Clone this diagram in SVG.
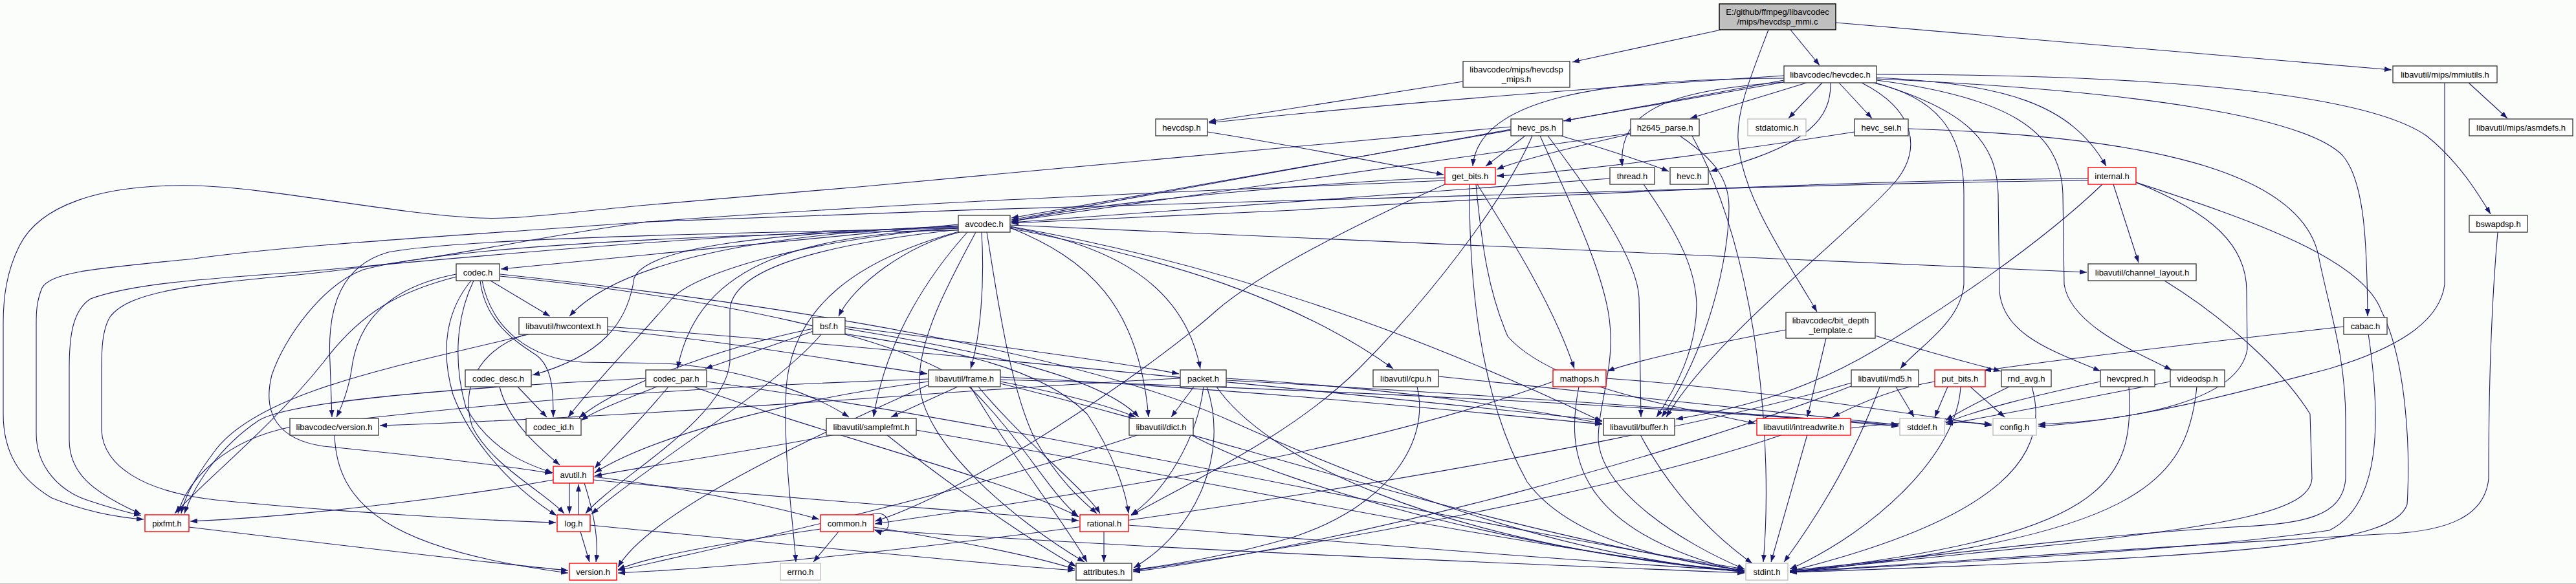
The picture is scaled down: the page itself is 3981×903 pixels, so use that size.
<svg xmlns="http://www.w3.org/2000/svg" width="3981" height="903" viewBox="0 0 3981 903">
<style>
.n rect{fill:#fff;stroke:#404040;stroke-width:1.4}
.n.r rect{stroke:#ff0000}
.n.g rect{stroke:#bfbfbf}
.n.top rect{fill:#bfbfbf;stroke:#000}
.n text{font-family:"Liberation Sans",Arial,sans-serif;font-size:13px;text-anchor:middle;fill:#000}
#edges path{fill:none;stroke:#191970;stroke-width:1.1;marker-end:url(#a)}
</style>
<defs>
<marker id="a" markerUnits="userSpaceOnUse" markerWidth="11" markerHeight="8" viewBox="0 0 11 8" refX="11" refY="4" orient="auto">
<path d="M0,0 L11,4 L0,8 z" fill="#191970"/>
</marker>
</defs>
<rect x="0" y="0" width="3981" height="903" fill="#fbfdfb"/>
<line x1="0" y1="902.5" x2="3981" y2="902.5" stroke="#c0c0c0"/>
<g id="edges">
<path d="M2660,46 L2430,96"/>
<path d="M2767,46 L2812,101"/>
<path d="M2733,46 C2705,120 2684,170 2686,215 C2690,300 2760,400 2808,482"/>
<path d="M2837,35 L3696,108"/>
<path d="M2261,126 L1868,188"/>
<path d="M2757,117 C2400,140 2100,165 1868,190"/>
<path d="M2757,124 L2417,187"/>
<path d="M2792,128 L2612,183"/>
<path d="M2816,128 L2764,183"/>
<path d="M2842,128 L2893,183"/>
<path d="M2829,128 C2830,180 2800,225 2643,265"/>
<path d="M2757,127 C2580,140 2500,170 2507,257"/>
<path d="M2757,121 C2480,122 2285,150 2276,257"/>
<path d="M2757,127 L1563,337"/>
<path d="M2900,120 C3100,130 3200,160 3255,257"/>
<path d="M2900,115 C3300,115 3650,140 3750,210 C3800,250 3830,300 3849,331"/>
<path d="M2900,122 C3300,140 3560,180 3620,240 C3655,280 3658,380 3659,489"/>
<path d="M2895,128 C2990,150 3035,200 3035,300 L3035,440 C3030,500 2960,540 2937,570"/>
<path d="M2898,128 C3040,170 3086,220 3088,300 L3090,450 C3095,520 3180,545 3246,574"/>
<path d="M2900,124 C3100,150 3185,200 3188,300 L3190,440 C3200,500 3290,540 3356,572"/>
<path d="M2877,128 C2960,170 2970,230 2930,280 C2850,370 2650,520 2575,645"/>
<path d="M3815,128 L3875,183"/>
<path d="M3778,128 L3778,440 C3770,500 3700,540 3600,570 C3450,610 3300,650 3150,659"/>
<path d="M1866,204 C2000,225 2150,255 2231,270"/>
<path d="M2357,210 L2296,257"/>
<path d="M2412,210 C2480,230 2540,250 2579,265"/>
<path d="M2335,200 L1563,340"/>
<path d="M2335,196 C2100,220 1500,275 1000,317 C880,328 800,340 740,337 C600,330 420,290 300,287 C150,284 60,320 30,380 C10,420 5,460 5,500 L5,640 C5,700 30,740 80,770 C130,790 180,800 222,803"/>
<path d="M2368,210 C2320,320 2200,470 2100,570 C2000,670 1850,740 1748,797"/>
<path d="M2392,210 C2460,300 2530,400 2533,460 L2536,645"/>
<path d="M2380,210 C2420,300 2470,400 2485,480 C2500,560 2470,620 2470,680 C2475,760 2600,840 2696,880"/>
<path d="M2520,207 C2420,230 2340,250 2313,262"/>
<path d="M2520,206 L1563,342"/>
<path d="M2596,210 C2640,240 2672,270 2672,320 C2672,400 2640,540 2568,645"/>
<path d="M2615,210 C2720,400 2740,700 2725,869"/>
<path d="M2233,275 C2100,278 1700,310 1563,343"/>
<path d="M2233,279 C2000,290 1500,306 1000,343 C800,370 700,400 460,425 C300,440 200,450 170,490 C158,510 157,540 157,570 L157,666 C160,720 220,760 333,773 C500,790 750,805 859,808"/>
<path d="M2283,285 C2330,360 2400,470 2433,570"/>
<path d="M2233,285 C2100,345 1950,420 1880,480 C1780,570 1500,760 1352,806"/>
<path d="M2271,285 C2270,450 2290,620 2360,745 C2430,840 2600,870 2696,882"/>
<path d="M2281,285 C2290,380 2300,450 2330,520 C2400,600 2600,630 2713,655"/>
<path d="M2488,276 L1563,344"/>
<path d="M2540,285 C2600,370 2620,420 2622,470 C2622,540 2590,600 2560,645"/>
<path d="M2866,204 C2700,230 2450,265 2313,272"/>
<path d="M2949,199 C3300,210 3560,260 3584,400 C3600,480 3625,550 3625,650 L3625,740 C3620,800 3560,810 3450,815 C3200,830 3000,860 2766,882"/>
<path d="M3227,276 C2900,278 2400,300 2000,325 L1563,345"/>
<path d="M3227,279 C2900,282 2400,300 2000,310 C1700,318 1300,330 1000,343 C700,365 460,378 300,400 C150,415 80,420 65,445 C57,465 56,480 56,500 L56,670 C56,720 90,760 140,775 C170,785 195,792 218,797"/>
<path d="M3266,285 L3305,406"/>
<path d="M3249,285 C3150,380 3000,480 2900,540 C2800,600 2700,630 2590,648"/>
<path d="M3301,282 C3420,330 3472,380 3472,450 L3473,540 C3460,620 3300,650 3150,656"/>
<path d="M3301,282 C3480,340 3650,400 3680,480 C3720,560 3725,700 3720,780 C3700,840 3500,860 2766,885"/>
<path d="M1561,348 L3225,421"/>
<path d="M1561,351 C1720,380 1830,440 1855,570"/>
<path d="M1561,352 C1680,400 1760,470 1775,645"/>
<path d="M1561,350 C1900,410 2200,520 2476,652"/>
<path d="M1561,353 C1800,400 2000,460 2153,570"/>
<path d="M1481,350 C1200,360 1000,380 980,430 C970,500 930,550 823,580"/>
<path d="M1481,347 L774,416"/>
<path d="M1481,349 C1200,360 960,400 880,489"/>
<path d="M1481,352 C1250,370 1080,420 1040,460 C980,530 920,590 878,645"/>
<path d="M1481,353 C1100,360 700,370 600,390 C530,410 505,470 510,560 L513,645"/>
<path d="M1481,355 C1250,380 1130,420 1128,480 L1128,560 C1120,650 950,740 905,794"/>
<path d="M1481,356 C1100,362 700,380 561,417 C500,440 440,520 420,580 C405,640 430,680 500,690 C650,705 780,720 853,732"/>
<path d="M1481,351 C1100,360 700,400 460,421 C300,432 200,440 140,462 C112,480 107,520 107,570 L107,680 C107,730 140,760 218,795"/>
<path d="M1495,359 C1440,420 1370,520 1350,645"/>
<path d="M1483,359 C1400,380 1320,440 1296,489"/>
<path d="M1481,353 C1250,365 1080,400 1047,570"/>
<path d="M1517,359 C1522,440 1515,520 1500,570"/>
<path d="M1508,359 C1470,430 1420,520 1421,590 C1422,680 1560,800 1676,869"/>
<path d="M1525,359 C1540,450 1560,600 1600,680 C1640,750 1680,780 1695,794"/>
<path d="M1482,358 C1330,400 1225,470 1215,600 C1210,700 1225,800 1230,869"/>
<path d="M758,434 L850,489"/>
<path d="M742,434 C750,500 800,530 830,550 C855,570 855,610 855,645"/>
<path d="M773,424 C1300,480 1700,560 1900,650 C2100,740 2400,860 2696,884"/>
<path d="M773,427 C1100,460 1400,520 1500,600 C1580,680 1620,760 1666,798"/>
<path d="M745,434 C760,510 820,555 900,560 L1030,562 C1150,570 1260,610 1312,645"/>
<path d="M728,434 C690,480 680,540 700,610 C730,690 800,760 860,797"/>
<path d="M732,434 C705,490 700,560 720,630 C760,700 820,720 854,731"/>
<path d="M705,428 C620,450 560,480 500,560 C420,660 320,740 270,794"/>
<path d="M705,424 C620,440 560,480 545,560 C540,600 530,625 520,645"/>
<path d="M820,516 C650,560 400,600 330,700 C300,740 285,770 280,794"/>
<path d="M815,516 C740,540 710,600 730,660 C760,720 840,760 872,794"/>
<path d="M939,505 C1400,540 1900,590 2476,650"/>
<path d="M939,510 C1150,530 1300,560 1433,578"/>
<path d="M1257,512 L1090,570"/>
<path d="M1257,508 C1100,540 950,600 895,646"/>
<path d="M1270,516 C1200,600 1000,720 914,795"/>
<path d="M1306,508 C1500,540 1700,580 1760,645"/>
<path d="M1306,516 C1450,540 1600,560 1680,640 C1720,700 1740,760 1744,794"/>
<path d="M1306,505 C1500,530 1700,555 1822,578"/>
<path d="M800,598 L845,645"/>
<path d="M772,598 C785,650 830,690 865,719"/>
<path d="M1015,598 C960,620 920,635 898,650"/>
<path d="M1033,598 C990,650 940,700 919,724"/>
<path d="M998,585 C700,600 450,620 400,650 C340,690 300,750 285,794"/>
<path d="M1072,598 C1300,680 1550,740 1667,799"/>
<path d="M1092,590 C1600,660 2200,800 2696,880"/>
<path d="M1480,598 L1377,645"/>
<path d="M1546,590 C1650,610 1720,630 1755,645"/>
<path d="M1512,598 C1580,680 1680,760 1700,794"/>
<path d="M1500,598 C1560,700 1640,800 1680,869"/>
<path d="M1546,583 C1900,600 2200,630 2476,656"/>
<path d="M1546,587 C2000,600 2600,630 2934,659"/>
<path d="M1546,593 C1900,680 2300,820 2696,882"/>
<path d="M1435,590 C1200,620 1000,680 919,731"/>
<path d="M1435,586 C1000,600 700,630 450,660 C350,680 290,740 275,794"/>
<path d="M1435,595 C1200,700 1000,800 955,877"/>
<path d="M1845,598 L1810,645"/>
<path d="M1860,598 C1850,680 1800,760 1748,796"/>
<path d="M1865,598 C1900,700 1850,820 1752,878"/>
<path d="M1895,585 C2150,600 2350,630 2476,655"/>
<path d="M1895,588 C2300,610 2700,640 2934,657"/>
<path d="M1880,598 C1950,700 2200,840 2696,883"/>
<path d="M1824,585 C1500,600 1100,640 587,658"/>
<path d="M1290,672 C1150,700 1000,720 919,736"/>
<path d="M1370,672 C1480,760 1600,840 1663,876"/>
<path d="M1416,665 C1800,730 2300,840 2696,885"/>
<path d="M1760,672 C1500,760 1100,850 955,882"/>
<path d="M1840,672 C2000,760 2400,860 2696,884"/>
<path d="M2535,672 C2580,760 2650,830 2708,871"/>
<path d="M2793,672 L2737,869"/>
<path d="M2755,672 C2500,760 2000,850 1751,882"/>
<path d="M2860,662 C2950,650 3010,650 3078,656"/>
<path d="M1345,796 C1378,782 1384,832 1352,820"/>
<path d="M1296,822 L1257,869"/>
<path d="M1350,815 C1500,840 1600,860 1661,880"/>
<path d="M1268,818 C1150,835 1000,860 955,881"/>
<path d="M1350,819 C1800,850 2300,870 2696,886"/>
<path d="M1706,822 L1706,869"/>
<path d="M1744,812 C2100,840 2400,865 2696,883"/>
<path d="M855,742 C700,770 450,800 294,806"/>
<path d="M880,747 L880,794"/>
<path d="M903,747 C920,800 925,840 921,869"/>
<path d="M917,737 C1100,760 1220,790 1266,803"/>
<path d="M917,742 C1200,770 1500,790 1667,805"/>
<path d="M894,796 L894,749"/>
<path d="M897,822 L911,869"/>
<path d="M912,812 C1200,840 1500,870 1661,882"/>
<path d="M292,815 C500,840 750,870 878,882"/>
<path d="M517,672 C520,780 600,850 878,886"/>
<path d="M2223,582 C2500,610 2800,645 2934,657"/>
<path d="M2190,598 C2210,680 2150,780 2000,830 C1900,860 1800,875 1751,881"/>
<path d="M2440,598 C2420,700 2430,820 2696,885"/>
<path d="M2400,590 C2100,700 1700,760 1352,810"/>
<path d="M2482,585 C2700,600 2950,640 3078,658"/>
<path d="M2930,598 L2958,645"/>
<path d="M2905,598 C2860,720 2800,810 2757,869"/>
<path d="M2861,597 C2600,700 2100,840 1751,884"/>
<path d="M2861,592 C2500,700 1500,860 955,886"/>
<path d="M3010,598 L2990,645"/>
<path d="M3045,598 L3098,645"/>
<path d="M3030,598 C3025,700 2900,820 2766,880"/>
<path d="M2990,590 C2930,600 2880,620 2832,645"/>
<path d="M3105,598 C3060,620 3030,635 3007,650"/>
<path d="M3140,598 C3170,700 3100,800 2766,883"/>
<path d="M3246,590 C3150,610 3050,635 3007,654"/>
<path d="M3290,598 C3300,750 3250,830 2766,884"/>
<path d="M3354,590 C3200,620 3100,640 3007,656"/>
<path d="M3395,598 C3380,750 3300,830 2766,885"/>
<path d="M3622,505 C3400,530 3150,560 3066,573"/>
<path d="M3660,516 C3680,650 3680,780 3600,820 C3400,850 3000,870 2766,885"/>
<path d="M2760,510 C2650,530 2520,560 2484,574"/>
<path d="M2822,523 L2793,645"/>
<path d="M2898,519 C2980,545 3040,560 3092,574"/>
<path d="M3345,434 C3420,480 3520,560 3570,640 L3573,740 C3570,790 3450,810 3200,840 C3000,860 2800,880 2766,884"/>
<path d="M3860,359 C3852,450 3846,560 3846,740 C3840,800 3780,820 3700,825 C3400,840 3000,870 2766,884"/>
</g>
<g id="n_top" class="n top"><rect x="2657" y="6" width="180" height="40"/><text x="2747" y="23">E:/github/ffmpeg/libavcodec</text><text x="2747" y="38">/mips/hevcdsp_mmi.c</text></g>
<g id="n_hevcdsp_mips" class="n"><rect x="2261" y="95" width="165" height="40"/><text x="2343.5" y="112">libavcodec/mips/hevcdsp</text><text x="2343.5" y="127">_mips.h</text></g>
<g id="n_hevcdec" class="n"><rect x="2757" y="102" width="143" height="26"/><text x="2828.5" y="119.5">libavcodec/hevcdec.h</text></g>
<g id="n_mmiutils" class="n"><rect x="3698" y="102" width="161" height="26"/><text x="3778.5" y="119.5">libavutil/mips/mmiutils.h</text></g>
<g id="n_hevcdsp" class="n"><rect x="1786" y="184" width="80" height="26"/><text x="1826" y="201.5">hevcdsp.h</text></g>
<g id="n_hevc_ps" class="n"><rect x="2335" y="184" width="80" height="26"/><text x="2375" y="201.5">hevc_ps.h</text></g>
<g id="n_h2645_parse" class="n"><rect x="2520" y="184" width="106" height="26"/><text x="2573" y="201.5">h2645_parse.h</text></g>
<g id="n_stdatomic" class="n g"><rect x="2701" y="184" width="90" height="26"/><text x="2746" y="201.5">stdatomic.h</text></g>
<g id="n_hevc_sei" class="n"><rect x="2866" y="184" width="83" height="26"/><text x="2907.5" y="201.5">hevc_sei.h</text></g>
<g id="n_asmdefs" class="n"><rect x="3816" y="184" width="160" height="26"/><text x="3896" y="201.5">libavutil/mips/asmdefs.h</text></g>
<g id="n_get_bits" class="n r"><rect x="2233" y="259" width="78" height="26"/><text x="2272" y="276.5">get_bits.h</text></g>
<g id="n_thread" class="n"><rect x="2488" y="259" width="69" height="26"/><text x="2522.5" y="276.5">thread.h</text></g>
<g id="n_hevc" class="n"><rect x="2581" y="259" width="59" height="26"/><text x="2610.5" y="276.5">hevc.h</text></g>
<g id="n_internal" class="n r"><rect x="3227" y="259" width="74" height="26"/><text x="3264" y="276.5">internal.h</text></g>
<g id="n_avcodec" class="n"><rect x="1481" y="333" width="80" height="26"/><text x="1521" y="350.5">avcodec.h</text></g>
<g id="n_bswapdsp" class="n"><rect x="3816" y="333" width="90" height="26"/><text x="3861" y="350.5">bswapdsp.h</text></g>
<g id="n_codec" class="n"><rect x="705" y="408" width="67" height="26"/><text x="738.5" y="425.5">codec.h</text></g>
<g id="n_channel_layout" class="n"><rect x="3227" y="408" width="167" height="26"/><text x="3310.5" y="425.5">libavutil/channel_layout.h</text></g>
<g id="n_hwcontext" class="n"><rect x="802" y="491" width="137" height="26"/><text x="870.5" y="508.5">libavutil/hwcontext.h</text></g>
<g id="n_bsf" class="n"><rect x="1256" y="491" width="50" height="26"/><text x="1281" y="508.5">bsf.h</text></g>
<g id="n_bit_depth_template" class="n"><rect x="2760" y="483" width="138" height="40"/><text x="2829" y="500">libavcodec/bit_depth</text><text x="2829" y="515">_template.c</text></g>
<g id="n_cabac" class="n"><rect x="3622" y="491" width="67" height="26"/><text x="3655.5" y="508.5">cabac.h</text></g>
<g id="n_codec_desc" class="n"><rect x="719" y="572" width="102" height="26"/><text x="770" y="589.5">codec_desc.h</text></g>
<g id="n_codec_par" class="n"><rect x="998" y="572" width="94" height="26"/><text x="1045" y="589.5">codec_par.h</text></g>
<g id="n_frame" class="n"><rect x="1435" y="572" width="111" height="26"/><text x="1490.5" y="589.5">libavutil/frame.h</text></g>
<g id="n_packet" class="n"><rect x="1824" y="572" width="71" height="26"/><text x="1859.5" y="589.5">packet.h</text></g>
<g id="n_cpu" class="n"><rect x="2122" y="572" width="101" height="26"/><text x="2172.5" y="589.5">libavutil/cpu.h</text></g>
<g id="n_mathops" class="n r"><rect x="2400" y="572" width="82" height="26"/><text x="2441" y="589.5">mathops.h</text></g>
<g id="n_md5" class="n"><rect x="2861" y="572" width="104" height="26"/><text x="2913" y="589.5">libavutil/md5.h</text></g>
<g id="n_put_bits" class="n r"><rect x="2990" y="572" width="78" height="26"/><text x="3029" y="589.5">put_bits.h</text></g>
<g id="n_rnd_avg" class="n"><rect x="3093" y="572" width="77" height="26"/><text x="3131.5" y="589.5">rnd_avg.h</text></g>
<g id="n_hevcpred" class="n"><rect x="3246" y="572" width="84" height="26"/><text x="3288" y="589.5">hevcpred.h</text></g>
<g id="n_videodsp" class="n"><rect x="3354" y="572" width="84" height="26"/><text x="3396" y="589.5">videodsp.h</text></g>
<g id="n_lavc_version" class="n"><rect x="448" y="647" width="137" height="26"/><text x="516.5" y="664.5">libavcodec/version.h</text></g>
<g id="n_codec_id" class="n"><rect x="813" y="647" width="85" height="26"/><text x="855.5" y="664.5">codec_id.h</text></g>
<g id="n_samplefmt" class="n"><rect x="1277" y="647" width="139" height="26"/><text x="1346.5" y="664.5">libavutil/samplefmt.h</text></g>
<g id="n_dict" class="n"><rect x="1745" y="647" width="99" height="26"/><text x="1794.5" y="664.5">libavutil/dict.h</text></g>
<g id="n_buffer" class="n"><rect x="2478" y="647" width="110" height="26"/><text x="2533" y="664.5">libavutil/buffer.h</text></g>
<g id="n_intreadwrite" class="n r"><rect x="2715" y="647" width="145" height="26"/><text x="2787.5" y="664.5">libavutil/intreadwrite.h</text></g>
<g id="n_stddef" class="n g"><rect x="2936" y="647" width="69" height="26"/><text x="2970.5" y="664.5">stddef.h</text></g>
<g id="n_config" class="n g"><rect x="3080" y="647" width="67" height="26"/><text x="3113.5" y="664.5">config.h</text></g>
<g id="n_avutil" class="n r"><rect x="855" y="721" width="62" height="26"/><text x="886" y="738.5">avutil.h</text></g>
<g id="n_pixfmt" class="n r"><rect x="224" y="796" width="68" height="26"/><text x="258" y="813.5">pixfmt.h</text></g>
<g id="n_log" class="n r"><rect x="861" y="796" width="51" height="26"/><text x="886.5" y="813.5">log.h</text></g>
<g id="n_common" class="n r"><rect x="1268" y="796" width="82" height="26"/><text x="1309" y="813.5">common.h</text></g>
<g id="n_rational" class="n r"><rect x="1669" y="796" width="75" height="26"/><text x="1706.5" y="813.5">rational.h</text></g>
<g id="n_version" class="n r"><rect x="880" y="871" width="73" height="26"/><text x="916.5" y="888.5">version.h</text></g>
<g id="n_errno" class="n g"><rect x="1206" y="871" width="62" height="26"/><text x="1237" y="888.5">errno.h</text></g>
<g id="n_attributes" class="n"><rect x="1663" y="871" width="86" height="26"/><text x="1706" y="888.5">attributes.h</text></g>
<g id="n_stdint" class="n g"><rect x="2698" y="871" width="65" height="26"/><text x="2730.5" y="888.5">stdint.h</text></g>
</svg>
